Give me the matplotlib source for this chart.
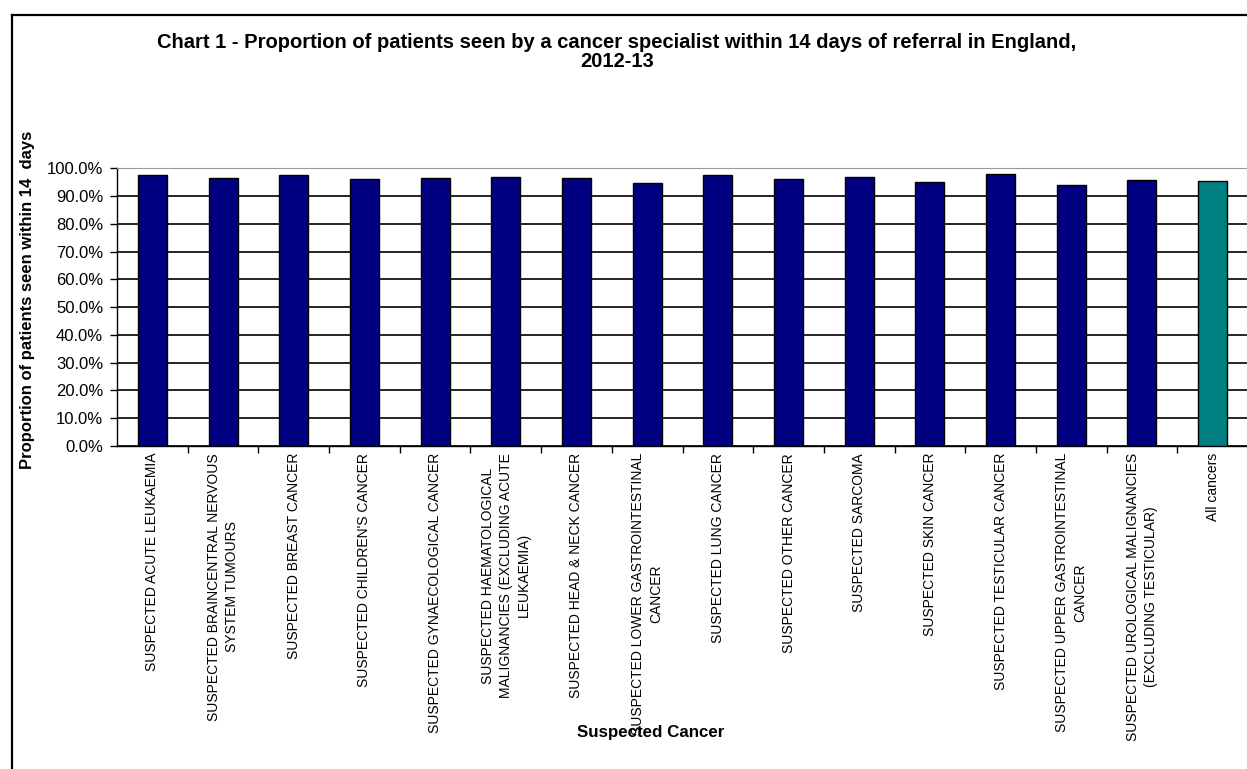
import numpy as np
import matplotlib
matplotlib.use('Agg')
import matplotlib.pyplot as plt
from matplotlib.lines import Line2D
from matplotlib.ticker import PercentFormatter, FixedLocator

plt.rcParams['font.family'] = ['Liberation Sans', 'DejaVu Sans']

#### data ####
categories = [
    "SUSPECTED ACUTE LEUKAEMIA",
    "SUSPECTED BRAINCENTRAL NERVOUS\nSYSTEM TUMOURS",
    "SUSPECTED BREAST CANCER",
    "SUSPECTED CHILDREN'S CANCER",
    "SUSPECTED GYNAECOLOGICAL CANCER",
    "SUSPECTED HAEMATOLOGICAL\nMALIGNANCIES (EXCLUDING ACUTE\nLEUKAEMIA)",
    "SUSPECTED HEAD & NECK CANCER",
    "SUSPECTED LOWER GASTROINTESTINAL\nCANCER",
    "SUSPECTED LUNG CANCER",
    "SUSPECTED OTHER CANCER",
    "SUSPECTED SARCOMA",
    "SUSPECTED SKIN CANCER",
    "SUSPECTED TESTICULAR CANCER",
    "SUSPECTED UPPER GASTROINTESTINAL\nCANCER",
    "SUSPECTED UROLOGICAL MALIGNANCIES\n(EXCLUDING TESTICULAR)",
    "All cancers",
]
proportion = [0.975, 0.966, 0.975, 0.960, 0.966, 0.970, 0.966, 0.947,
              0.975, 0.961, 0.967, 0.952, 0.980, 0.939, 0.957, 0.956]
yticks = [0.1 * k for k in range(11)]

colors = ['#000080'] * (len(categories) - 1) + ['#008080']

#### figure ####
W, H = 1247, 769
fig = plt.figure(figsize=(W / 100, H / 100), dpi=100)
ax = fig.add_axes([117 / W, 1 - 446 / H, (1248 - 117) / W, (446 - 168.3) / H])

x = np.arange(len(categories))
ax.bar(x, proportion, width=0.41, color=colors, edgecolor='black',
       linewidth=1.0, zorder=3)

ax.set_xlim(-0.5, len(categories) - 0.5)
ax.set_ylim(0, 1.0)
ax.set_yticks(yticks)
ax.yaxis.set_major_formatter(PercentFormatter(1.0, decimals=1))
ax.grid(axis='y', color='black', linewidth=1.2, zorder=0)
ax.set_axisbelow(True)

ax.set_xticks(x)
ax.set_xticklabels(categories, rotation=90, ha='center', va='top',
                   multialignment='center', fontsize=10, linespacing=1.35)
ax.tick_params(axis='x', which='major', length=0, pad=5)
ax.xaxis.set_minor_locator(FixedLocator(np.arange(0.5, len(categories) - 0.5, 1)))
ax.tick_params(axis='x', which='minor', length=5, width=1.0, direction='out')
ax.tick_params(axis='y', length=5, width=1.0, direction='out', labelsize=12,
               pad=5)

ax.spines['right'].set_visible(False)
ax.spines['top'].set_color('#999999')
ax.spines['left'].set_linewidth(1.0)
ax.spines['bottom'].set_linewidth(1.0)

#### texts ####
fig.text(617 / W, 1 - 52 / H,
         "Chart 1 - Proportion of patients seen by a cancer specialist within 14 days of referral in England,\n2012-13",
         ha='center', va='center', fontsize=14.5, fontweight='bold',
         linespacing=1.05)
fig.text(28 / W, 1 - 300 / H, "Proportion of patients seen within 14  days",
         rotation=90, ha='center', va='center', fontsize=12,
         fontweight='bold')
fig.text(651 / W, 1 - 733 / H, "Suspected Cancer", ha='center', va='center',
         fontsize=12.2, fontweight='bold')

#### outer frame ####
fig.add_artist(Line2D([12 / W, 12 / W], [0, 1 - 15 / H], color='black',
                      linewidth=1.6, transform=fig.transFigure))
fig.add_artist(Line2D([12 / W, 1], [1 - 15 / H, 1 - 15 / H], color='black',
                      linewidth=1.6, transform=fig.transFigure))

fig.savefig('out.png', dpi=100)
